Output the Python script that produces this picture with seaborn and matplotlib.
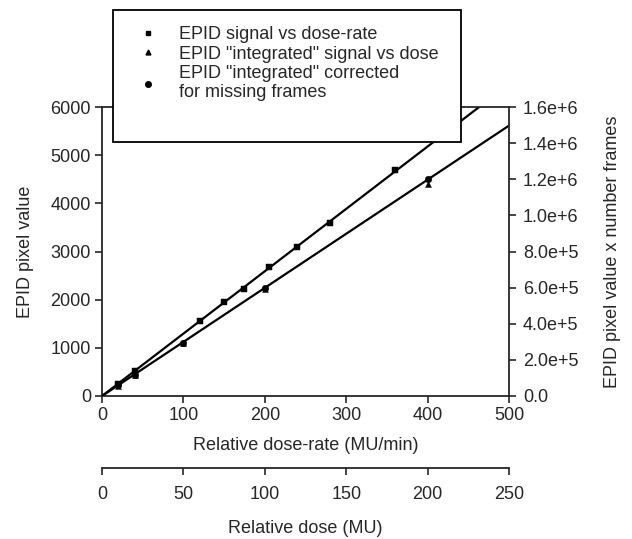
import numpy as np
import pandas as pd
import matplotlib
matplotlib.use('Agg')
import matplotlib.pyplot as plt
from matplotlib.lines import Line2D
from matplotlib.patches import Rectangle
from matplotlib.ticker import FuncFormatter
import seaborn as sns

# EPID signal vs dose-rate (left axis, dose-rate axis)
dose_rate = [20, 40, 120, 150, 175, 205, 240, 280, 360]
epid_signal = [255, 515, 1565, 1950, 2230, 2670, 3085, 3600, 4700]

# integrated signal vs dose (right axis, dose axis)
dose = [10, 20, 50, 100, 200]
integrated = [58000, 116000, 293000, 590000, 1175000]
integrated_corr = [59000, 118000, 296000, 598000, 1199000]

rate_ticks = [0, 100, 200, 300, 400, 500]
dose_ticks = [0, 50, 100, 150, 200, 250]
left_ticks = [0, 1000, 2000, 3000, 4000, 5000, 6000]
right_ticks = [0, 2e5, 4e5, 6e5, 8e5, 1.0e6, 1.2e6, 1.4e6, 1.6e6]

sns.set_style('ticks')
plt.rcParams['font.family'] = ['Liberation Sans', 'DejaVu Sans']
FS = 13

W, H = 632, 539
fig = plt.figure(figsize=(W / 100, H / 100), dpi=100)
rect = [102 / W, 1 - 396 / H, (509 - 102) / W, (396 - 107) / H]
ax = fig.add_axes(rect)
ax2 = fig.add_axes(rect)
ax2.patch.set_visible(False)


def fit_origin(x, y):
    x = np.asarray(x, float)
    y = np.asarray(y, float)
    return (x * y).sum() / (x * x).sum()


k1 = fit_origin(dose_rate, epid_signal)
k2 = fit_origin(dose, integrated_corr)
fit1 = pd.DataFrame({'x': rate_ticks, 'y': [k1 * v for v in rate_ticks]})
fit2 = pd.DataFrame({'x': dose_ticks, 'y': [k2 * v for v in dose_ticks]})

sns.lineplot(data=fit1, x='x', y='y', ax=ax, color='black', lw=1.6)
sns.scatterplot(x=dose_rate, y=epid_signal, ax=ax, marker='s', s=16,
                color='black', edgecolor='black', zorder=3)

sns.lineplot(data=fit2, x='x', y='y', ax=ax2, color='black', lw=1.6)
sns.scatterplot(x=dose, y=integrated, ax=ax2, marker='^', s=18,
                color='black', edgecolor='black', zorder=3)
sns.scatterplot(x=dose, y=integrated_corr, ax=ax2, marker='o', s=22,
                color='black', edgecolor='black', zorder=3)

# left / primary bottom axis
ax.set_xlim(0, 500)
ax.set_ylim(0, 6000)
ax.set_xticks(rate_ticks)
ax.set_yticks(left_ticks)
ax.spines['right'].set_visible(False)
for s in ['left', 'bottom', 'top']:
    ax.spines[s].set_linewidth(1.3)
ax.tick_params(axis='both', direction='out', length=5, width=1.2, labelsize=FS, pad=3)
ax.set_xlabel('Relative dose-rate (MU/min)', fontsize=FS, labelpad=9)
ax.set_ylabel('EPID pixel value', fontsize=FS, labelpad=12)

# right / secondary bottom axis
ax2.set_xlim(0, 250)
ax2.set_ylim(0, 1.6e6)
ax2.set_xticks(dose_ticks)
ax2.set_yticks(right_ticks)
ax2.yaxis.tick_right()
ax2.yaxis.set_label_position('right')
ax2.spines['left'].set_visible(False)
ax2.spines['top'].set_visible(False)
ax2.spines['right'].set_linewidth(1.3)
ax2.spines['bottom'].set_linewidth(1.3)
ax2.spines['bottom'].set_position(('outward', 52))


def sci(v, pos):
    if v == 0:
        return '0.0'
    m, e = f'{v:.1e}'.split('e')
    return f'{m}e+{int(e)}'


ax2.yaxis.set_major_formatter(FuncFormatter(sci))
ax2.tick_params(axis='both', direction='out', length=5, width=1.2, labelsize=FS, pad=8)
ax2.tick_params(axis='y', pad=5)
ax2.set_xlabel('Relative dose (MU)', fontsize=FS, labelpad=12)
ax2.set_ylabel('EPID pixel value x number frames', fontsize=FS, labelpad=18)

# legend box
fig.add_artist(Rectangle((113 / W, 1 - 142 / H), (461 - 113) / W, (142 - 10) / H,
                         transform=fig.transFigure, facecolor='white',
                         edgecolor='black', lw=1.3, zorder=4))
handles = [
    Line2D([], [], ls='none', marker='s', ms=3, color='black'),
    Line2D([], [], ls='none', marker='^', ms=3.5, color='black'),
    Line2D([], [], ls='none', marker='o', ms=4, color='black'),
]
labels = ['EPID signal vs dose-rate',
          'EPID "integrated" signal vs dose',
          'EPID "integrated" corrected\nfor missing frames']
leg = fig.legend(handles, labels, loc='upper left',
                 bbox_to_anchor=(128 / W, 1 - 17 / H), frameon=False,
                 fontsize=FS, borderpad=0, labelspacing=0.15,
                 handlelength=1.2, handletextpad=1.1)
for t in leg.get_texts():
    t.set_linespacing(1.15)
leg.set_zorder(5)

fig.savefig('out.png', dpi=100, facecolor='white')
